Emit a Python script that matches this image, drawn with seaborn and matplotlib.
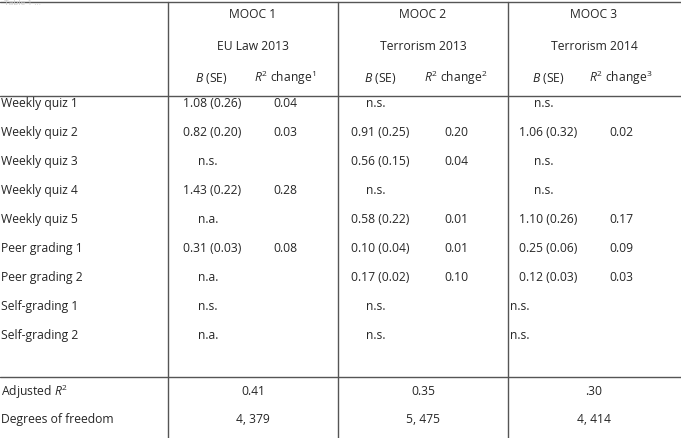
import matplotlib
matplotlib.use("Agg")
import matplotlib.pyplot as plt
import seaborn as sns

sns.set_style("white")
plt.rcParams['font.family'] = ['Open Sans', 'DejaVu Sans']
plt.rcParams['mathtext.fontset'] = 'custom'
plt.rcParams['mathtext.rm'] = 'Open Sans'
plt.rcParams['mathtext.it'] = 'Open Sans:italic'

row_labels = ['Weekly quiz 1', 'Weekly quiz 2', 'Weekly quiz 3', 'Weekly quiz 4', 'Weekly quiz 5',
              'Peer grading 1', 'Peer grading 2', 'Self-grading 1', 'Self-grading 2']
moocs = ['MOOC 1', 'MOOC 2', 'MOOC 3']
courses = ['EU Law 2013', 'Terrorism 2013', 'Terrorism 2014']
b1 = ['1.08 (0.26)', '0.82 (0.20)', 'n.s.', '1.43 (0.22)', 'n.a.', '0.31 (0.03)', 'n.a.', 'n.s.', 'n.a.']
r1 = ['0.04', '0.03', '', '0.28', '', '0.08', '', '', '']
b2 = ['n.s.', '0.91 (0.25)', '0.56 (0.15)', 'n.s.', '0.58 (0.22)', '0.10 (0.04)', '0.17 (0.02)', 'n.s.', 'n.s.']
r2 = ['', '0.20', '0.04', '', '0.01', '0.01', '0.10', '', '']
b3 = ['n.s.', '1.06 (0.32)', 'n.s.', 'n.s.', '1.10 (0.26)', '0.25 (0.06)', '0.12 (0.03)', 'n.s.', 'n.s.']
r3 = ['', '0.02', '', '', '0.17', '0.09', '0.03', '', '']
adj_r2 = ['0.41', '0.35', '.30']
dof = ['4, 379', '5, 475', '4, 414']

fig = plt.figure(figsize=(6.81, 4.39), dpi=100)
ax = fig.add_axes([0, 0, 1, 1])
ax.set_xlim(0, 681)
ax.set_ylim(439, 0)
ax.axis('off')

fs = 8.7
lc = '#555555'
# grid lines
for y in [3, 97, 378]:
    ax.plot([0, 681], [y, y], color=lc, lw=1)
for x in [168, 338, 508]:
    ax.plot([x, x], [3, 439], color=lc, lw=1)

ax.text(4, 0, 'Table 1 ...', fontsize=6, color='#cccccc', va='top')

centers = [253, 423, 594]
bcols = [211, 380, 548]
rcols = [285, 456, 621]
for i in range(3):
    ax.text(centers[i], 15, moocs[i], fontsize=fs, ha='center', va='center')
    ax.text(centers[i], 46, courses[i], fontsize=fs, ha='center', va='center')
    ax.text(bcols[i], 78, r'$\it{B}$ (SE)', fontsize=fs, ha='center', va='center')
    ax.text(rcols[i], 78, r'$\it{R}^{2}$ change$^{%d}$' % (i + 1), fontsize=fs, ha='center', va='center')

ys = [104 + 29 * k for k in range(len(row_labels))]
for k, lab in enumerate(row_labels):
    y = ys[k]
    ax.text(1, y, lab, fontsize=fs, va='center')
    for bvals, rvals, bx, rx, x0 in [(b1, r1, 212, 285, 168), (b2, r2, 380, 456, 338), (b3, r3, 548, 621, 508)]:
        v = bvals[k]
        if len(v) > 4:
            ax.text(bx, y, v, fontsize=fs, ha='center', va='center')
        else:
            # short entries are left-aligned further in
            lx = 510 if (x0 == 508 and k >= 7) else bx - 14
            ax.text(lx, y, v, fontsize=fs, ha='left', va='center')
        if rvals[k]:
            ax.text(rx, y, rvals[k], fontsize=fs, ha='center', va='center')

ax.text(1, 392, r'Adjusted $\it{R}^{2}$', fontsize=fs, va='center')
ax.text(1, 420, 'Degrees of freedom', fontsize=fs, va='center')
for i in range(3):
    ax.text(centers[i], 392, adj_r2[i], fontsize=fs, ha='center', va='center')
    ax.text(centers[i], 420, dof[i], fontsize=fs, ha='center', va='center')

fig.savefig('out.png', dpi=100)
